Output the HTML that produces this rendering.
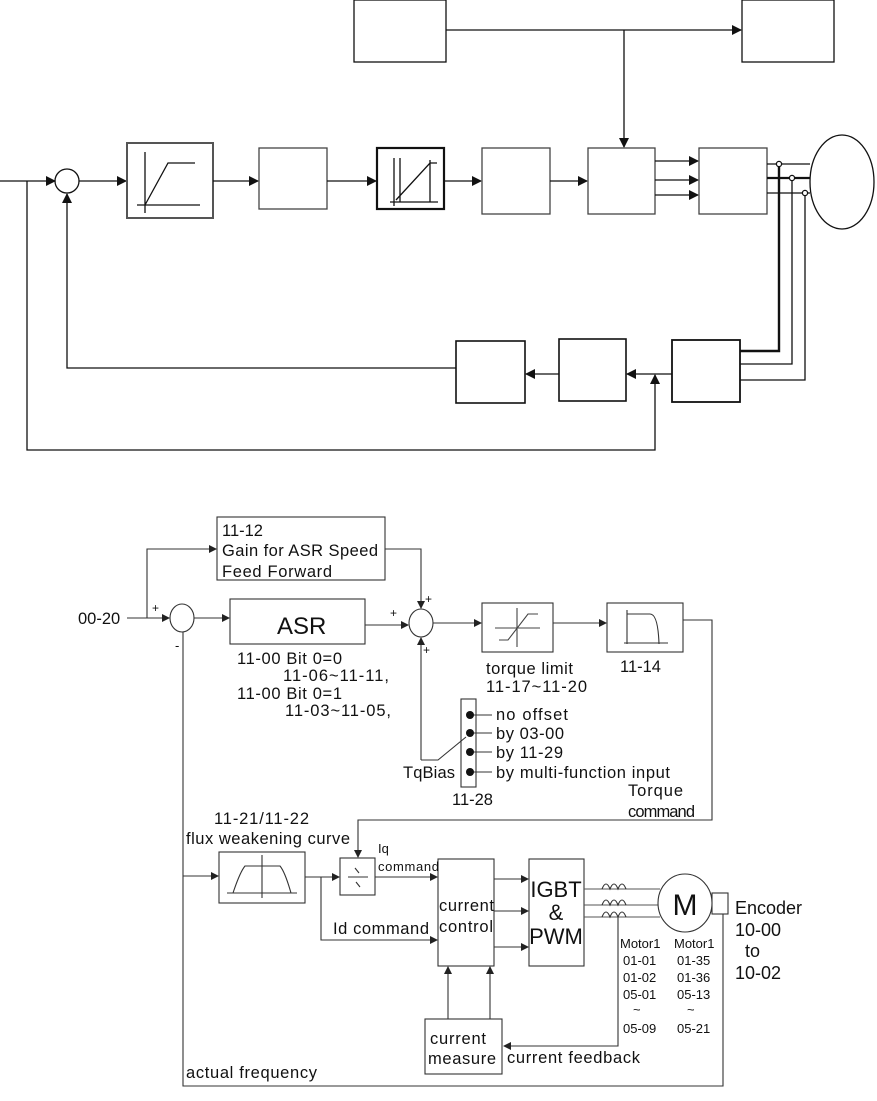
<!DOCTYPE html>
<html><head><meta charset="utf-8"><style>
html,body{margin:0;padding:0;background:#fff;overflow:hidden;}
svg{display:block;}
text{font-family:"Liberation Sans",sans-serif;fill:#111;}
</style></head><body>
<svg width="877" height="1101" viewBox="0 0 877 1101" xmlns="http://www.w3.org/2000/svg">
<defs>
<marker id="a" markerWidth="10" markerHeight="10" refX="9" refY="5" orient="auto" markerUnits="userSpaceOnUse"><path d="M0,0 L10,5 L0,10 z" fill="#111"/></marker>
<marker id="b" markerWidth="8" markerHeight="8" refX="7" refY="4" orient="auto" markerUnits="userSpaceOnUse"><path d="M0,0 L8,4 L0,8 z" fill="#222"/></marker>
</defs>
<g stroke="#111" stroke-width="1.3" fill="none">
<rect x="354" y="0" width="92" height="62"/>
<rect x="742" y="0" width="92" height="62"/>
<line x1="446" y1="30" x2="741" y2="30" marker-end="url(#a)"/>
<line x1="624" y1="30" x2="624" y2="147" marker-end="url(#a)"/>
<line x1="0" y1="181" x2="55" y2="181" marker-end="url(#a)"/>
<circle cx="67" cy="181" r="12"/>
<line x1="79" y1="181" x2="126" y2="181" marker-end="url(#a)"/>
<rect x="127" y="143" width="86" height="75" stroke="#555" stroke-width="2"/>
<path d="M145,152 V213 M137,205 H200 M145,205 L168,163 H195"/>
<line x1="213" y1="181" x2="258" y2="181" marker-end="url(#a)"/>
<rect x="259" y="148" width="68" height="61" stroke="#444"/>
<line x1="327" y1="181" x2="376" y2="181" marker-end="url(#a)"/>
<rect x="377" y="148" width="67" height="61" stroke-width="2.2"/>
<path d="M394,158 V206 M400,158 V202 M390,202 H438 M396,200 L430,163 H437 M430,160 V202"/>
<line x1="444" y1="181" x2="481" y2="181" marker-end="url(#a)"/>
<rect x="482" y="148" width="68" height="66" stroke="#444"/>
<line x1="550" y1="181" x2="587" y2="181" marker-end="url(#a)"/>
<rect x="588" y="148" width="67" height="66" stroke="#444"/>
<line x1="655" y1="161" x2="698" y2="161" marker-end="url(#a)"/>
<line x1="655" y1="180" x2="698" y2="180" marker-end="url(#a)"/>
<line x1="655" y1="195" x2="698" y2="195" marker-end="url(#a)"/>
<rect x="699" y="148" width="68" height="66" stroke="#444"/>
<ellipse cx="842" cy="182" rx="32" ry="47"/>
<line x1="767" y1="164" x2="810" y2="164"/>
<line x1="767" y1="178" x2="810" y2="178" stroke-width="2.2"/>
<line x1="767" y1="193" x2="810" y2="193"/>
<path d="M779,164 V351 H740" stroke-width="2.4"/>
<path d="M792,178 V364 H740"/>
<path d="M805,193 V380 H740"/>
<circle cx="779" cy="164" r="2.6" fill="#fff"/>
<circle cx="792" cy="178" r="2.6" fill="#fff"/>
<circle cx="805" cy="193" r="2.6" fill="#fff"/>
<rect x="672" y="340" width="68" height="62" stroke-width="1.8"/>
<rect x="559" y="339" width="67" height="62" stroke-width="1.6"/>
<rect x="456" y="341" width="69" height="62" stroke-width="1.6"/>
<line x1="672" y1="374" x2="627" y2="374" marker-end="url(#a)"/>
<line x1="559" y1="374" x2="526" y2="374" marker-end="url(#a)"/>
<path d="M456,368 H67 V194" marker-end="url(#a)"/>
<path d="M27,181 V450 H655 V375" marker-end="url(#a)"/>
</g>
<g stroke="#333" stroke-width="1.1" fill="none">
<rect x="217" y="517" width="168" height="63"/>
<path d="M127,618 H169" marker-end="url(#b)"/>
<path d="M147,618 V549 H216" marker-end="url(#b)"/>
<ellipse cx="182" cy="618" rx="12" ry="14"/>
<line x1="194" y1="618" x2="229" y2="618" marker-end="url(#b)"/>
<rect x="230" y="599" width="135" height="45"/>
<line x1="365" y1="625" x2="408" y2="625" marker-end="url(#b)"/>
<path d="M385,549 H421 V608" marker-end="url(#b)"/>
<ellipse cx="421" cy="623" rx="12" ry="14"/>
<line x1="433" y1="623" x2="481" y2="623" marker-end="url(#b)"/>
<rect x="482" y="603" width="71" height="49"/>
<path d="M495,628 H540 M517,608 V647 M499,640 H508 L528,614 H538" stroke="#444"/>
<line x1="553" y1="623" x2="606" y2="623" marker-end="url(#b)"/>
<rect x="607" y="603" width="76" height="49"/>
<path d="M627,610 V644 M624,643 H668 M627,614 H650 Q658,614 659,644"/>
<path d="M683,620 H712 V820 H358 V857" marker-end="url(#b)"/>
<rect x="461" y="699" width="15" height="88"/>
<path d="M421,760 V638" marker-end="url(#b)"/>
<path d="M421,760 H438 L466,737"/>
<path d="M470,715 H492 M470,733 H492 M470,752 H492 M470,772 H492"/>
<path d="M183,632 V1086 H723 V914"/>
<rect x="712" y="893" width="16" height="21"/>
<line x1="183" y1="876" x2="218" y2="876" marker-end="url(#b)"/>
<rect x="219" y="852" width="86" height="51"/>
<path d="M262,855 V898 M227,893 H297 M233,893 Q240,872 245,866 H280 Q285,872 291,893"/>
<line x1="305" y1="877" x2="339" y2="877" marker-end="url(#b)"/>
<path d="M321,877 V940 H437" marker-end="url(#b)"/>
<rect x="340" y="858" width="35" height="37"/>
<path d="M348,877 H368 M355,868 L359,873 M356,882 L360,887"/>
<line x1="375" y1="877" x2="437" y2="877" marker-end="url(#b)"/>
<rect x="438" y="859" width="56" height="107"/>
<line x1="494" y1="879" x2="528" y2="879" marker-end="url(#b)"/>
<line x1="494" y1="911" x2="528" y2="911" marker-end="url(#b)"/>
<line x1="494" y1="947" x2="528" y2="947" marker-end="url(#b)"/>
<rect x="529" y="859" width="55" height="107"/>
<path d="M584,889 H660 M584,905 H660 M584,917 H660" stroke="#555"/>
<path d="M602,889 q4,-10 8,0 q4,-10 8,0 q4,-10 8,0 M602,905 q4,-10 8,0 q4,-10 8,0 q4,-10 8,0 M602,917 q4,-10 8,0 q4,-10 8,0 q4,-10 8,0"/>
<ellipse cx="685" cy="903" rx="27" ry="29" fill="#fff"/>
<path d="M618,917 V1046 H504" marker-end="url(#b)"/>
<rect x="425" y="1019" width="77" height="55"/>
<line x1="448" y1="1019" x2="448" y2="967" marker-end="url(#b)"/>
<line x1="490" y1="1019" x2="490" y2="967" marker-end="url(#b)"/>
</g>
<g fill="#111">
<circle cx="470" cy="715" r="4"/><circle cx="470" cy="733" r="4"/><circle cx="470" cy="752" r="4"/><circle cx="470" cy="772" r="4"/>
</g>
<g font-size="16.5">
<text x="222" y="536">11-12</text>
<text x="222" y="556" textLength="156">Gain for ASR Speed</text>
<text x="222" y="577" textLength="110">Feed Forward</text>
<text x="78" y="624">00-20</text>
<text x="152" y="612" font-size="12">+</text>
<text x="175" y="650" font-size="13">-</text>
<text x="277" y="634" font-size="24">ASR</text>
<text x="390" y="617" font-size="12">+</text>
<text x="425" y="603" font-size="12">+</text>
<text x="423" y="654" font-size="12">+</text>
<text x="237" y="664" textLength="105">11-00 Bit 0=0</text>
<text x="283" y="681" textLength="106">11-06~11-11,</text>
<text x="237" y="699" textLength="105">11-00 Bit 0=1</text>
<text x="285" y="716" textLength="106">11-03~11-05,</text>
<text x="486" y="674" textLength="87">torque limit</text>
<text x="486" y="692" textLength="101">11-17~11-20</text>
<text x="620" y="672">11-14</text>
<text x="496" y="720" textLength="72">no offset</text>
<text x="496" y="739" textLength="68">by 03-00</text>
<text x="496" y="758" textLength="67">by 11-29</text>
<text x="496" y="778" textLength="174">by multi-function input</text>
<text x="403" y="778" textLength="52">TqBias</text>
<text x="452" y="805">11-28</text>
<text x="628" y="796" textLength="55">Torque</text>
<text x="628" y="817" textLength="67">command</text>
<text x="214" y="824" textLength="95">11-21/11-22</text>
<text x="186" y="844" textLength="164">flux weakening curve</text>
<text x="378" y="853" font-size="13">Iq</text>
<text x="378" y="871" font-size="13" textLength="61">command</text>
<text x="333" y="934" textLength="96">Id command</text>
<text x="439" y="911" textLength="55">current</text>
<text x="439" y="932" textLength="54">control</text>
<text x="556" y="897" font-size="22" text-anchor="middle">IGBT</text>
<text x="556" y="920" font-size="22" text-anchor="middle">&amp;</text>
<text x="556" y="944" font-size="22" text-anchor="middle">PWM</text>
<text x="685" y="915" font-size="30" text-anchor="middle">M</text>
<text x="735" y="914" font-size="18">Encoder</text>
<text x="735" y="936" font-size="18">10-00</text>
<text x="745" y="957" font-size="18">to</text>
<text x="735" y="979" font-size="18">10-02</text>
<g font-size="13">
<text x="620" y="948">Motor1</text><text x="674" y="948">Motor1</text>
<text x="623" y="965">01-01</text><text x="677" y="965">01-35</text>
<text x="623" y="982">01-02</text><text x="677" y="982">01-36</text>
<text x="623" y="999">05-01</text><text x="677" y="999">05-13</text>
<text x="633" y="1014">~</text><text x="687" y="1014">~</text>
<text x="623" y="1033">05-09</text><text x="677" y="1033">05-21</text>
</g>
<text x="430" y="1044" textLength="56">current</text>
<text x="428" y="1064" textLength="68">measure</text>
<text x="507" y="1063" textLength="133">current feedback</text>
<text x="186" y="1078" textLength="131">actual frequency</text>
</g>
</svg>
</body></html>
